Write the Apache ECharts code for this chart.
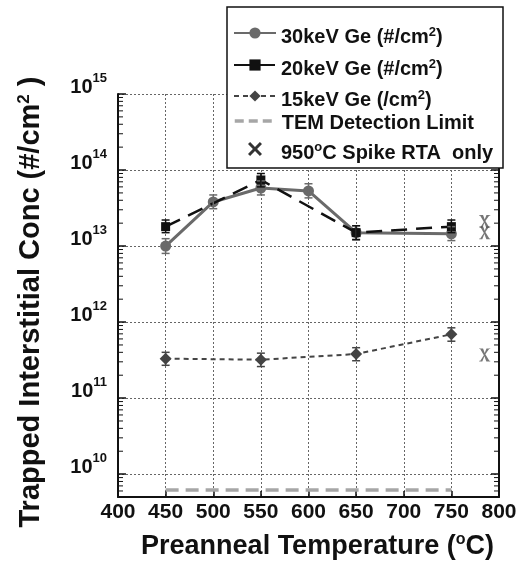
<!DOCTYPE html>
<html>
<head>
<meta charset="utf-8">
<script src="https://cdn.jsdelivr.net/npm/echarts@6/dist/echarts.min.js"></script>
<style>
  html, body { margin: 0; padding: 0; background: #fff; }
  #chart { width: 530px; height: 568px; }
</style>
</head>
<body>
<div id="chart"></div>
<script>
// values
const temps30 = [450, 500, 550, 600, 650, 750];
const ge30 = [1.0e13, 3.8e13, 5.8e13, 5.3e13, 1.5e13, 1.45e13];
const ge30Low = [0.8e13, 3.1e13, 4.7e13, 4.3e13, 1.2e13, 1.18e13];
const ge30High = [1.25e13, 4.7e13, 7.2e13, 6.6e13, 1.85e13, 1.8e13];

const temps20 = [450, 550, 650, 750];
const ge20 = [1.8e13, 7.4e13, 1.5e13, 1.8e13];
const ge20Low = [1.5e13, 6.0e13, 1.22e13, 1.5e13];
const ge20High = [2.2e13, 9.0e13, 1.85e13, 2.2e13];

const temps15 = [450, 550, 650, 750];
const ge15 = [3.3e11, 3.2e11, 3.8e11, 6.9e11];
const ge15Low = [2.7e11, 2.6e11, 3.1e11, 5.6e11];
const ge15High = [4.0e11, 3.9e11, 4.6e11, 8.4e11];

const temLimitTemps = [450, 750];
const temLimit = [6.2e9, 6.2e9];

const spikeTemps = [785, 785, 785];
const spikeVals = [2.1e13, 1.5e13, 3.7e11];

const decades = [10, 11, 12, 13, 14, 15];

const names = [
  '30keV Ge (#/cm{s|2})',
  '20keV Ge (#/cm{s|2})',
  '15keV Ge (/cm{s|2})',
  'TEM Detection Limit',
  '950{s|o}C Spike RTA  only'
];
// legend row tops / lefts (px) and text nudge
const legendTops = [16.5, 48.5, 79.5, 107, 133];
const legendLefts = [233, 233, 233, 233, 248];
const legendNudge = [9, 9, 9, 4, 8];

const FONT = 'Liberation Sans, Arial, sans-serif';

const zip = (xs, ys) => xs.map((x, i) => [x, ys[i]]);
const zipErr = (xs, lo, hi) => xs.map((x, i) => [x, lo[i], hi[i]]);

// minor log ticks (2..9 per decade), drawn on both vertical axes
const minorVals = [[6e9], [7e9], [8e9], [9e9]];
decades.slice(0, -1).forEach(d => {
  for (let k = 2; k <= 9; k++) minorVals.push([k * Math.pow(10, d)]);
});

const chart = echarts.init(document.getElementById('chart'));

function errorBar(color) {
  return function (params, api) {
    const p1 = api.coord([api.value(0), api.value(1)]);
    const p2 = api.coord([api.value(0), api.value(2)]);
    const c = 4;
    const st = { stroke: color, lineWidth: 1.5 };
    return {
      type: 'group',
      children: [
        { type: 'line', shape: { x1: p1[0], y1: p1[1], x2: p2[0], y2: p2[1] }, style: st },
        { type: 'line', shape: { x1: p1[0] - c, y1: p1[1], x2: p1[0] + c, y2: p1[1] }, style: st },
        { type: 'line', shape: { x1: p2[0] - c, y1: p2[1], x2: p2[0] + c, y2: p2[1] }, style: st }
      ]
    };
  };
}

const supStyle = { fontSize: 13, fontWeight: 'bold', fontFamily: FONT, verticalAlign: 'top', lineHeight: 13, color: '#111' };

function legendItem(n, i) {
  if (i === 4) {
    return { name: n, itemStyle: { color: '#000' }, icon: 'path://M0,1.5L1.5,0L5,3.5L8.5,0L10,1.5L6.5,5L10,8.5L8.5,10L5,6.5L1.5,10L0,8.5L3.5,5Z' };
  }
  if (i === 3) {
    return {
      name: n,
      itemStyle: { opacity: 0 },
      lineStyle: { color: '#a6a6a6', width: 3.5, type: [9, 5], opacity: 1 }
    };
  }
  return { name: n };
}

const legends = names.map((n, i) => ({
  orient: 'vertical',
  left: legendLefts[i],
  top: legendTops[i],
  padding: 0,
  itemWidth: 42,
  itemHeight: 14,
  itemGap: 0,
  z: 20,
  selectedMode: false,
  textStyle: {
    fontSize: 20, fontWeight: 'bold', fontFamily: FONT, color: '#111',
    lineHeight: 24,
    padding: [legendNudge[i], 0, 0, 0],
    rich: { s: supStyle }
  },
  data: [legendItem(n, i)]
}));

const option = {
  animation: false,
  backgroundColor: '#fff',
  grid: { left: 118, right: 31, top: 94, bottom: 71 },
  graphic: [{
    type: 'rect', z: 15,
    shape: { x: 227, y: 7, width: 276, height: 161 },
    style: { fill: '#fff', stroke: '#111', lineWidth: 1.5 }
  }],
  legend: legends,
  xAxis: {
    type: 'value',
    min: 400, max: 800, interval: 50,
    name: 'Preanneal Temperature ({s|o}C)',
    nameLocation: 'middle',
    nameGap: 35,
    nameTextStyle: {
      fontSize: 27, fontWeight: 'bold', fontFamily: FONT, color: '#111', lineHeight: 30,
      padding: [0, 0, 0, 18],
      rich: { s: { fontSize: 16, fontWeight: 'bold', fontFamily: FONT, verticalAlign: 'top', lineHeight: 16, color: '#111' } }
    },
    axisLine: { lineStyle: { color: '#111', width: 2 } },
    axisTick: { inside: true, length: 6, lineStyle: { color: '#111', width: 1.5 } },
    axisLabel: { margin: 5, fontSize: 21, fontWeight: 'bold', fontFamily: FONT, color: '#111' },
    splitLine: { lineStyle: { color: '#666', type: [2, 2], width: 1 } }
  },
  yAxis: [
    {
      type: 'log', logBase: 10,
      min: 5e9, max: 1e15,
      name: 'Trapped Interstitial Conc (#/cm{s|2} )',
      nameLocation: 'middle',
      nameGap: 72,
      nameRotate: 90,
      nameTextStyle: {
        fontSize: 29, fontWeight: 'bold', fontFamily: FONT, color: '#111', lineHeight: 30,
        padding: [0, 13, 0, 0],
        rich: { s: { fontSize: 17, fontWeight: 'bold', fontFamily: FONT, verticalAlign: 'top', lineHeight: 17, color: '#111' } }
      },
      axisLine: { lineStyle: { color: '#111', width: 2 } },
      axisTick: { inside: true, length: 8, lineStyle: { color: '#111', width: 1.5 } },
      axisLabel: {
        showMinLabel: false,
        margin: 11,
        padding: [0, 0, 14, 0],
        formatter: v => '{b|10}{e|' + Math.round(Math.log10(v)) + '}',
        rich: {
          b: { fontSize: 20, fontWeight: 'bold', fontFamily: FONT, color: '#111', lineHeight: 30 },
          e: { fontSize: 13, fontWeight: 'bold', fontFamily: FONT, color: '#111', verticalAlign: 'top', lineHeight: 13 }
        }
      },
      splitLine: { lineStyle: { color: '#666', type: [2, 2], width: 1 } }
    },
    {
      type: 'log', logBase: 10,
      min: 5e9, max: 1e15,
      position: 'right',
      axisLine: { show: true, lineStyle: { color: '#111', width: 2 } },
      axisTick: { show: true, inside: true, length: 8, lineStyle: { color: '#111', width: 1.5 } },
      axisLabel: { show: false },
      splitLine: { show: false }
    }
  ],
  series: [
    {
      name: names[0], type: 'line', z: 5,
      data: zip(temps30, ge30),
      symbol: 'circle', symbolSize: 11,
      itemStyle: { color: '#6a6a6a' },
      lineStyle: { color: '#6a6a6a', width: 3 }
    },
    {
      name: names[1], type: 'line', z: 6,
      data: zip(temps20, ge20),
      symbol: 'rect', symbolSize: 9,
      itemStyle: { color: '#111' },
      lineStyle: { color: '#111', width: 2.5, type: [16, 9] }
    },
    {
      name: names[2], type: 'line', z: 5,
      data: zip(temps15, ge15),
      symbol: 'diamond', symbolSize: 12,
      itemStyle: { color: '#444' },
      lineStyle: { color: '#444', width: 2, type: [5, 4] }
    },
    {
      name: names[3], type: 'line', z: 4,
      data: zip(temLimitTemps, temLimit),
      symbol: 'none',
      itemStyle: { color: '#a6a6a6' },
      lineStyle: { color: '#a6a6a6', width: 3.5, type: [13, 7] }
    },
    {
      name: names[4], type: 'scatter', z: 5,
      data: zip(spikeTemps, spikeVals),
      symbol: 'path://M0,0L3.5,0L5,4.2L6.6,0L10,0L10,0.6L9,0.6L5.6,5.4L9.2,11.4L10,11.4L10,12L6.5,12L4.7,7.2L2.8,12L0,12L0,11.4L1,11.4L4.2,6.4L0.9,0.6L0,0.6Z',
      symbolSize: [11, 13],
      itemStyle: { color: '#555' }
    },
    {
      type: 'custom', z: 7,
      renderItem: errorBar('#6a6a6a'),
      data: zipErr(temps30, ge30Low, ge30High)
    },
    {
      type: 'custom', z: 7,
      renderItem: errorBar('#111'),
      data: zipErr(temps20, ge20Low, ge20High)
    },
    {
      type: 'custom', z: 7,
      renderItem: errorBar('#444'),
      data: zipErr(temps15, ge15Low, ge15High)
    },
    {
      type: 'custom', z: 3, silent: true,
      renderItem: function (params, api) {
        const pl = api.coord([400, api.value(0)]);
        const pr = api.coord([800, api.value(0)]);
        const st = { stroke: '#111', lineWidth: 1 };
        return {
          type: 'group',
          children: [
            { type: 'line', shape: { x1: pl[0], y1: pl[1], x2: pl[0] + 5, y2: pl[1] }, style: st },
            { type: 'line', shape: { x1: pr[0], y1: pr[1], x2: pr[0] - 5, y2: pr[1] }, style: st }
          ]
        };
      },
      encode: { y: 0 },
      data: minorVals
    }
  ]
};

chart.setOption(option);
</script>
</body>
</html>
